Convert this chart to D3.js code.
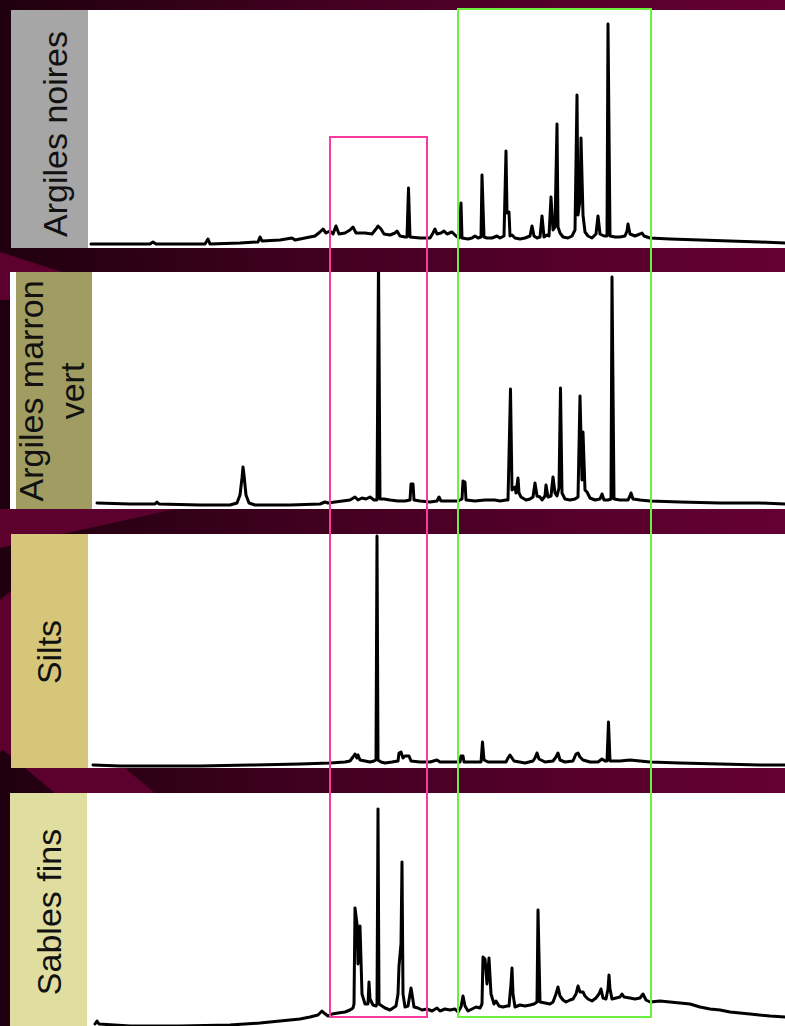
<!DOCTYPE html>
<html>
<head>
<meta charset="utf-8">
<script src="https://cdn.jsdelivr.net/npm/d3@7"></script>
<style>
  html, body { margin: 0; padding: 0; background: #2a0014; }
  svg { display: block; }
</style>
</head>
<body>
<svg width="785" height="1026"></svg>
<script>
/* global d3 */

// sample names shown in the left boxes (one entry per line)
const labelLines = [
  ["Argiles noires"],
  ["Argiles marron", "vert"],
  ["Silts"],
  ["Sables fins"]
];

// chromatograms: [retention time (min), intensity]
const noires = [
  [0.3, 4], [3.2, 4], [6.2, 4], [6.5, 6], [6.8, 4], [11.7, 4], [12.0, 9], [12.2, 4],
  [15.2, 5], [17.0, 6], [17.2, 11], [17.4, 7], [19.2, 8], [20.4, 10], [20.7, 8],
  [21.7, 10], [22.7, 12], [23.2, 16], [23.5, 19], [23.8, 15], [24.2, 17], [24.5, 14],
  [24.8, 22], [25.1, 14], [25.7, 15], [26.2, 18], [26.5, 21], [26.8, 15], [27.7, 15],
  [28.4, 14], [28.8, 19], [29.0, 22], [29.3, 19], [29.6, 14], [30.2, 13], [30.7, 15],
  [30.9, 17], [31.2, 12], [31.7, 11], [31.9, 11], [32.05, 60], [32.2, 11], [33.2, 10],
  [34.2, 10], [34.5, 15], [34.7, 19], [34.9, 14], [35.3, 15], [35.6, 17], [35.9, 14],
  [36.4, 16], [36.8, 12], [37.1, 10], [37.3, 45], [37.4, 10], [38.0, 9], [38.4, 10],
  [38.7, 12], [39.0, 10], [39.3, 11], [39.4, 73], [39.6, 11], [39.9, 10], [40.4, 10],
  [40.9, 12], [41.2, 10], [41.6, 12], [41.8, 97], [41.9, 35], [42.1, 36], [42.2, 12],
  [42.4, 13], [42.7, 10], [43.2, 9], [43.7, 10], [44.2, 12], [44.4, 22], [44.6, 12],
  [44.9, 10], [45.2, 11], [45.4, 32], [45.6, 11], [45.9, 13], [46.1, 12], [46.3, 51],
  [46.5, 18], [46.7, 21], [46.9, 124], [47.0, 21], [47.2, 15], [47.5, 11], [48.0, 10],
  [48.4, 12], [48.7, 18], [48.9, 153], [49.0, 33], [49.2, 48], [49.3, 110], [49.5, 33],
  [49.7, 16], [50.0, 12], [50.4, 10], [50.8, 14], [51.0, 32], [51.2, 14], [51.6, 12],
  [51.9, 12], [52.0, 224], [52.2, 12], [52.7, 11], [53.2, 11], [53.7, 12], [53.9, 17],
  [54.0, 24], [54.2, 14], [54.7, 12], [55.2, 14], [55.4, 15], [55.6, 12], [56.2, 10],
  [58.2, 9], [61.2, 8], [64.2, 7], [67.2, 6], [69.7, 5]
];

const marronVert = [
  [0.9, 6], [4.2, 5], [6.7, 5], [6.9, 7], [7.1, 5], [11.2, 4], [14.2, 4], [14.9, 6],
  [15.2, 14], [15.4, 31], [15.5, 42], [15.6, 34], [15.8, 14], [16.1, 6], [16.7, 4],
  [20.2, 4], [23.2, 5], [23.7, 7], [24.0, 6], [24.7, 7], [26.2, 9], [26.7, 12], [27.0, 9],
  [27.4, 11], [27.8, 10], [28.2, 12], [28.6, 9], [28.9, 9], [29.05, 250], [29.2, 10],
  [29.6, 10], [30.2, 9], [31.0, 8], [31.7, 8], [32.2, 9], [32.3, 25], [32.5, 25],
  [32.6, 9], [33.2, 8], [34.2, 7], [34.9, 8], [35.1, 12], [35.3, 8], [36.2, 8], [37.0, 8],
  [37.4, 10], [37.5, 28], [37.7, 27], [37.8, 9], [38.7, 8], [39.7, 9], [40.7, 9],
  [41.2, 8], [41.8, 9], [42.0, 9], [42.25, 120], [42.4, 19], [42.7, 22], [42.8, 16],
  [43.0, 31], [43.1, 16], [43.3, 12], [43.8, 9], [44.2, 10], [44.5, 12], [44.7, 26],
  [44.9, 13], [45.2, 12], [45.4, 9], [45.7, 13], [45.8, 24], [46.0, 12], [46.3, 13],
  [46.5, 32], [46.7, 16], [46.9, 13], [47.1, 21], [47.25, 121], [47.4, 16], [47.7, 10],
  [48.2, 9], [48.7, 10], [49.0, 12], [49.2, 113], [49.4, 29], [49.5, 77], [49.7, 19],
  [49.9, 17], [50.2, 11], [50.7, 9], [51.2, 10], [51.4, 15], [51.6, 9], [52.0, 9],
  [52.3, 10], [52.4, 232], [52.6, 10], [53.2, 9], [54.0, 9], [54.2, 13], [54.3, 16],
  [54.5, 10], [55.2, 9], [56.2, 8], [59.2, 7], [63.2, 6], [67.2, 6], [69.7, 5]
];

const silts = [
  [0.5, 3], [3.2, 2], [6.2, 2], [11.2, 2], [16.2, 3], [21.2, 4], [24.2, 5], [25.7, 6],
  [26.2, 7], [26.5, 11], [26.7, 14], [26.9, 10], [27.0, 13], [27.2, 8], [27.7, 7],
  [28.2, 6], [28.6, 7], [28.8, 8], [28.9, 232], [29.0, 8], [29.3, 6], [29.7, 5],
  [30.4, 6], [31.0, 7], [31.1, 15], [31.3, 16], [31.5, 10], [31.7, 12], [31.9, 12],
  [32.1, 12], [32.3, 7], [33.2, 6], [34.2, 6], [34.9, 8], [35.2, 6], [36.7, 6], [37.2, 6],
  [37.3, 12], [37.5, 12], [37.6, 6], [38.7, 6], [39.3, 6], [39.45, 26], [39.6, 8],
  [40.0, 6], [41.2, 6], [41.8, 6], [42.0, 10], [42.2, 13], [42.4, 10], [42.6, 7],
  [43.7, 5], [44.5, 7], [44.7, 10], [44.9, 15], [45.1, 9], [45.7, 6], [46.5, 7],
  [46.8, 11], [47.0, 15], [47.2, 8], [47.7, 6], [48.5, 7], [48.8, 14], [49.0, 15],
  [49.2, 11], [49.5, 8], [50.2, 6], [51.0, 6], [51.4, 9], [51.7, 7], [51.9, 7],
  [52.05, 46], [52.2, 7], [53.2, 7], [54.2, 8], [55.2, 7], [56.2, 6], [59.2, 5],
  [63.2, 4], [67.2, 3], [69.7, 3]
];

const sablesFins = [
  [0.7, 6], [0.9, 9], [1.1, 6], [4.2, 4], [9.2, 4], [14.2, 5], [17.2, 7], [19.2, 9],
  [21.2, 11], [22.2, 13], [23.0, 15], [23.4, 19], [23.6, 17], [24.0, 14], [24.4, 16],
  [25.0, 17], [25.7, 18], [26.2, 20], [26.5, 22], [26.6, 26], [26.7, 122], [26.9, 106],
  [27.0, 66], [27.1, 86], [27.2, 104], [27.4, 36], [27.7, 26], [28.0, 26], [28.1, 48],
  [28.2, 31], [28.5, 25], [28.8, 24], [28.9, 26], [29.0, 221], [29.1, 26], [29.4, 24],
  [29.7, 22], [30.2, 20], [30.5, 22], [30.8, 24], [31.0, 36], [31.1, 64], [31.3, 86],
  [31.4, 168], [31.5, 36], [31.7, 23], [32.0, 24], [32.2, 36], [32.3, 42], [32.4, 36],
  [32.6, 23], [33.0, 22], [33.4, 20], [33.9, 21], [34.4, 19], [34.9, 22], [35.2, 19],
  [35.7, 21], [36.2, 20], [36.7, 21], [37.0, 18], [37.3, 23], [37.5, 34], [37.7, 24],
  [38.0, 19], [38.4, 21], [38.8, 23], [39.2, 22], [39.4, 26], [39.5, 73], [39.7, 71],
  [39.9, 46], [40.1, 72], [40.3, 36], [40.6, 26], [40.8, 29], [41.1, 24], [41.5, 23],
  [41.9, 24], [42.1, 24], [42.3, 46], [42.4, 62], [42.5, 36], [42.7, 23], [43.2, 25],
  [43.7, 24], [44.2, 25], [44.6, 26], [44.9, 28], [45.0, 120], [45.2, 28], [45.7, 27],
  [46.2, 26], [46.5, 28], [46.8, 36], [47.0, 43], [47.2, 34], [47.5, 30], [47.8, 28],
  [48.2, 30], [48.5, 31], [48.8, 36], [49.0, 44], [49.2, 38], [49.5, 38], [49.7, 34],
  [50.0, 31], [50.4, 29], [50.8, 32], [51.1, 36], [51.3, 41], [51.5, 32], [51.8, 31],
  [52.0, 41], [52.1, 55], [52.2, 41], [52.4, 31], [52.8, 32], [53.2, 33], [53.4, 36],
  [53.6, 33], [54.2, 32], [54.7, 31], [55.2, 32], [55.5, 36], [55.8, 30], [56.2, 28],
  [57.2, 29], [58.2, 28], [59.2, 27], [60.2, 26], [61.2, 23], [62.2, 21], [63.2, 20],
  [64.2, 18], [66.2, 16], [68.2, 14], [69.7, 13]
];

const traces = [noires, marronVert, silts, sablesFins];

// highlighted retention windows (min)
const pinkWindow = [24.2, 33.9];
const greenWindow = [37.0, 56.3];

// ---- layout ----
const svg = d3.select("svg");
const width = +svg.attr("width");
const height = +svg.attr("height");

const panels = [
  { top: 10, bottom: 248, box: [11, 88], white: 88, fill: "#a6a6a6", cy: 134, bx: [67] },
  { top: 272, bottom: 509, box: [16, 92], white: 10, fill: "#a19d62", cy: 391, bx: [43, 84] },
  { top: 534, bottom: 768, box: [11, 88], white: 88, fill: "#d5c67a", cy: 652, bx: [61] },
  { top: 793, bottom: 1030, box: [10, 87], white: 87, fill: "#dfdda0", cy: 912, bx: [61] }
];

const x = d3.scaleLinear().domain([0, 70]).range([88, 788]);

// background
const defs = svg.append("defs");
const grad = defs.append("linearGradient").attr("id", "bg");
grad.append("stop").attr("offset", "0%").attr("stop-color", "#1f000e");
grad.append("stop").attr("offset", "45%").attr("stop-color", "#450022");
grad.append("stop").attr("offset", "100%").attr("stop-color", "#650033");

svg.append("rect")
  .attr("width", width)
  .attr("height", height)
  .attr("fill", "url(#bg)");

const stripes = [
  [[0, 248], [0, 300], [12, 300], [12, 272], [62, 272], [0, 252]],
  [[0, 509], [175, 509], [0, 548]],
  [[0, 600], [12, 590], [12, 745], [0, 752]],
  [[-40, 714], [60, 714], [180, 814], [80, 814]]
];
svg.selectAll(".stripe")
  .data(stripes)
  .enter()
  .append("path")
  .attr("class", "stripe")
  .attr("d", function(d) { return "M" + d.join("L") + "Z"; })
  .attr("fill", "#5c002d");

// panels
panels.forEach(function(p, i) {
  const g = svg.append("g");
  const y = d3.scaleLinear().domain([0, 240]).range([p.bottom, p.bottom - 240]);

  g.append("rect")
    .attr("x", p.white)
    .attr("y", p.top)
    .attr("width", width - p.white)
    .attr("height", p.bottom - p.top)
    .attr("fill", "#fff");

  g.append("rect")
    .attr("x", p.box[0])
    .attr("y", p.top)
    .attr("width", p.box[1] - p.box[0])
    .attr("height", p.bottom - p.top)
    .attr("fill", p.fill);

  labelLines[i].forEach(function(line, j) {
    g.append("text")
      .attr("transform", "translate(" + p.bx[j] + "," + p.cy + ") rotate(-90)")
      .attr("text-anchor", "middle")
      .attr("font-family", "Liberation Sans, Arial, sans-serif")
      .attr("font-size", 34)
      .attr("fill", "#111")
      .text(line);
  });

  defs.append("clipPath")
    .attr("id", "clip" + i)
    .append("rect")
    .attr("x", p.box[1])
    .attr("y", p.top)
    .attr("width", width - p.box[1])
    .attr("height", p.bottom - p.top);

  const line = d3.line()
    .x(function(d) { return x(d[0]); })
    .y(function(d) { return y(d[1]); });

  g.append("path")
    .datum(traces[i])
    .attr("clip-path", "url(#clip" + i + ")")
    .attr("d", line)
    .attr("fill", "none")
    .attr("stroke", "#000")
    .attr("stroke-width", 3)
    .attr("stroke-linejoin", "round")
    .attr("stroke-linecap", "round");
});

// highlight boxes
svg.append("rect")
  .attr("x", x(pinkWindow[0]))
  .attr("y", 137)
  .attr("width", x(pinkWindow[1]) - x(pinkWindow[0]))
  .attr("height", 1017 - 137)
  .attr("fill", "none")
  .attr("stroke", "#fb3a9e")
  .attr("stroke-width", 2);

svg.append("rect")
  .attr("x", x(greenWindow[0]))
  .attr("y", 9)
  .attr("width", x(greenWindow[1]) - x(greenWindow[0]))
  .attr("height", 1017 - 9)
  .attr("fill", "none")
  .attr("stroke", "#6af23c")
  .attr("stroke-width", 2);
</script>
</body>
</html>
